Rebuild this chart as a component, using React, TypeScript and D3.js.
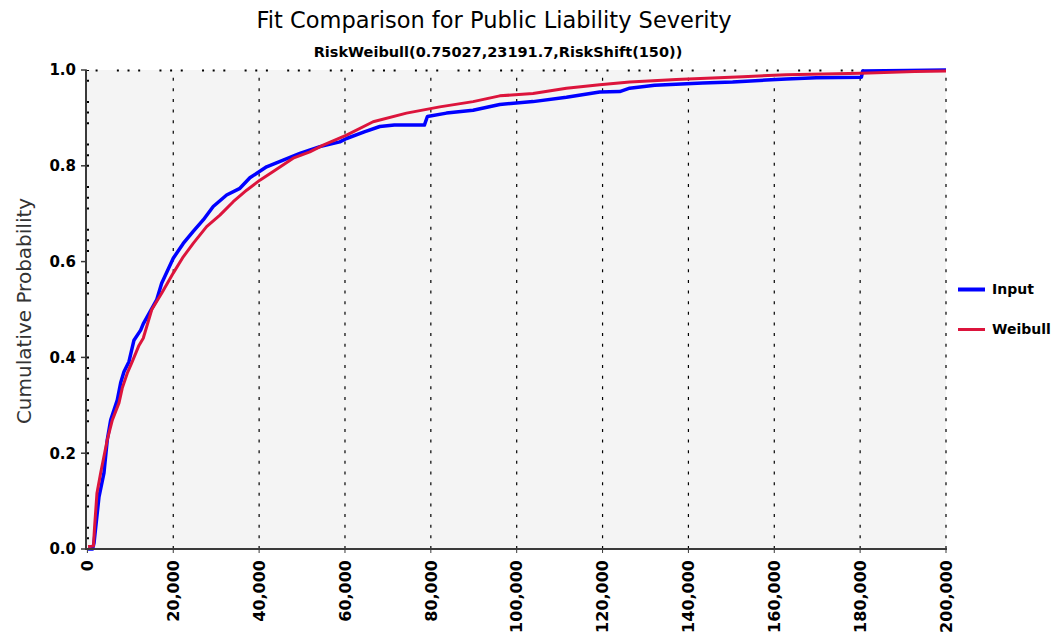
import React from 'react';
import * as d3 from 'd3';

const title = 'Fit Comparison for Public Liability Severity';
const subtitle = 'RiskWeibull(0.75027,23191.7,RiskShift(150))';
const yAxisTitle = 'Cumulative Probability';

const seriesNames = ['Input', 'Weibull'];
const seriesColors = ['#0000ff', '#dc143c'];

const xTicks = [0, 20000, 40000, 60000, 80000, 100000, 120000, 140000, 160000, 180000, 200000];
const yTicks = [0, 0.2, 0.4, 0.6, 0.8, 1.0];

const inputX = [150, 1200, 1540, 2700, 3860, 4630, 5420, 6960, 7750, 8520, 9680, 10850, 12410, 13010, 16130, 17300, 20000, 22330, 24650, 26980, 29310, 32430, 35530, 37850, 41740, 45610, 49490, 54150, 58800, 60360, 64500, 68120, 71500, 78500, 79200, 83650, 89840, 96050, 103800, 111590, 119330, 124000, 126320, 132140, 143310, 150300, 158140, 162800, 169780, 180300, 180600, 191000, 200000];
const inputY = [0, 0, 0.0125, 0.109, 0.159, 0.228, 0.269, 0.311, 0.347, 0.37, 0.391, 0.436, 0.457, 0.47, 0.52, 0.555, 0.607, 0.638, 0.663, 0.687, 0.715, 0.739, 0.753, 0.775, 0.798, 0.812, 0.826, 0.84, 0.85, 0.857, 0.871, 0.882, 0.885, 0.885, 0.903, 0.91, 0.916, 0.928, 0.934, 0.943, 0.954, 0.955, 0.962, 0.968, 0.973, 0.975, 0.979, 0.981, 0.984, 0.985, 0.998, 0.999, 1.0];

// Fitted Weibull CDF
const weibullX = [150, 1400, 1700, 2230, 3100, 4630, 5800, 7360, 8120, 9290, 10450, 12010, 13010, 15000, 17300, 20000, 22330, 24650, 27770, 30870, 33970, 37090, 40180, 43280, 47930, 51820, 54920, 60360, 66560, 74330, 82080, 89840, 96050, 103800, 111590, 119330, 126320, 137190, 152630, 162800, 180260, 192670, 200000];
const weibullY = [0.005, 0.006, 0.05, 0.117, 0.159, 0.228, 0.269, 0.305, 0.336, 0.367, 0.391, 0.425, 0.44, 0.5, 0.534, 0.576, 0.61, 0.638, 0.673, 0.697, 0.725, 0.749, 0.77, 0.788, 0.816, 0.829, 0.843, 0.864, 0.892, 0.91, 0.923, 0.934, 0.946, 0.951, 0.962, 0.969, 0.975, 0.98, 0.986, 0.99, 0.993, 0.997, 0.998];

const W = 1058;
const H = 634;
const L = 86, R = 946, T = 70, B = 549;
const FONT = "'DejaVu Sans', Verdana, sans-serif";

export default function App() {
  const x = d3.scaleLinear().domain([0, 200000]).range([87.4, R]);
  const y = d3.scaleLinear().domain([0, 1]).range([B, T]);
  const line = d3.line<[number, number]>().x(d => x(d[0])).y(d => y(d[1]));
  const inputPts: [number, number][] = inputX.map((v, i) => [v, inputY[i]]);
  const weibullPts: [number, number][] = weibullX.map((v, i) => [v, weibullY[i]]);
  const fmt = d3.format(',');
  const step = (B - T) / 45;
  const pat = `2 ${step - 2} 2 ${step - 2} 2 ${2 * step - 2}`;

  return (
    <svg width={W} height={H} style={{ position: 'absolute', left: 0, top: 0, background: '#fff' }}>
      <rect x={L} y={T} width={R - L} height={B - T} fill="#f4f4f4" />
      {/* vertical dotted gridlines */}
      {xTicks.filter(t => t > 0).map(t => (
        <line key={'g' + t} x1={x(t)} x2={x(t)} y1={B} y2={T} stroke="#000" strokeWidth={1.2} strokeDasharray={`3 ${step - 3}`} />
      ))}
      {/* top dotted border */}
      <line x1={L} x2={R} y1={T + 0.5} y2={T + 0.5} stroke="#000" strokeWidth={2} strokeDasharray={pat} strokeDashoffset={11.7} />
      {/* left inner dotted marks */}
      <line x1={88} x2={88} y1={B + 1} y2={T} stroke="#000" strokeWidth={2} strokeDasharray={pat} />

      {/* series */}
      <path d={line(inputPts) || ''} fill="none" stroke={seriesColors[0]} strokeWidth={3.5} strokeLinejoin="round" />
      <path d={line(weibullPts) || ''} fill="none" stroke={seriesColors[1]} strokeWidth={3} strokeLinejoin="round" />

      {/* axes */}
      <line x1={L} x2={L} y1={T} y2={B + 1} stroke="#3a3a3a" strokeWidth={2} />
      <line x1={L} x2={R + 1} y1={B} y2={B} stroke="#3a3a3a" strokeWidth={2} />
      {yTicks.map(t => (
        <g key={'y' + t}>
          <line x1={L - 5} x2={L} y1={y(t)} y2={y(t)} stroke="#3a3a3a" strokeWidth={1.5} />
          <text x={76} y={y(t)} dy="0.36em" textAnchor="end" fontFamily={FONT} fontWeight="bold" fontSize={15} fill="#000">
            {t.toFixed(1)}
          </text>
        </g>
      ))}
      {xTicks.map(t => (
        <g key={'x' + t}>
          <line x1={x(t)} x2={x(t)} y1={B} y2={B + 4} stroke="#3a3a3a" strokeWidth={1} />
          <text transform={`translate(${x(t)},560) rotate(-90)`} dy="0.36em" textAnchor="end" fontFamily={FONT} fontWeight="bold" fontSize={16} fill="#000">
            {fmt(t)}
          </text>
        </g>
      ))}

      {/* titles */}
      <text x={494} y={28} textAnchor="middle" fontFamily={FONT} fontSize={22.5} fill="#000">{title}</text>
      <text x={498} y={57} textAnchor="middle" fontFamily={FONT} fontWeight="bold" fontSize={14.5} fill="#000">{subtitle}</text>
      <text transform="translate(31,311) rotate(-90)" textAnchor="middle" fontFamily={FONT} fontSize={20} fill="#333">{yAxisTitle}</text>

      {/* legend */}
      <line x1={958} x2={985} y1={289.5} y2={289.5} stroke={seriesColors[0]} strokeWidth={4} />
      <text x={992} y={294} fontFamily={FONT} fontWeight="bold" fontSize={14} fill="#000">{seriesNames[0]}</text>
      <line x1={958} x2={985} y1={329.5} y2={329.5} stroke={seriesColors[1]} strokeWidth={3} />
      <text x={992} y={334} fontFamily={FONT} fontWeight="bold" fontSize={14} fill="#000">{seriesNames[1]}</text>
    </svg>
  );
}
